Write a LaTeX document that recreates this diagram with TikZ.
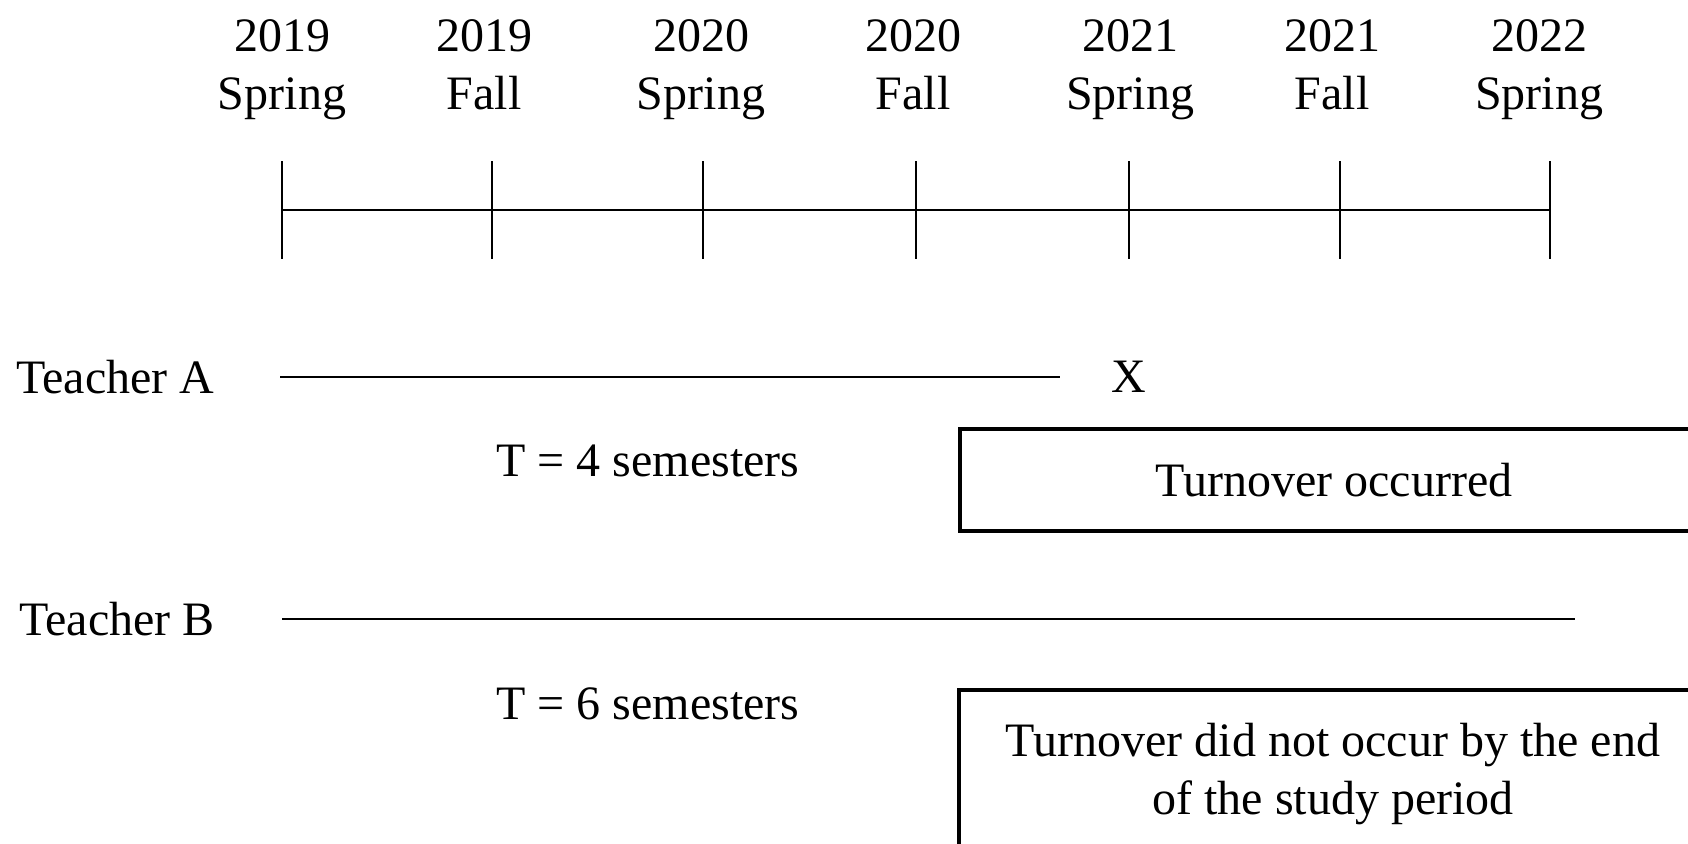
\documentclass[tikz,border=0pt]{standalone}
\usepackage{fontspec}
\setmainfont{Liberation Serif}
\begin{document}
\begin{tikzpicture}[x=0.5pt, y=-0.5pt,
  every node/.style={font=\fontsize{24}{29}\selectfont},
  sem/.style={align=center, inner sep=0pt, anchor=north},
  tick/.style={inner sep=0pt, minimum width=0pt, minimum height=48.5pt},
  spell/.style={line width=1pt},
  outcome/.style={draw, line width=1.6pt, align=center, minimum width=374pt}]
\clip (0,0) rectangle (1688,843);

\node[tick](s19) at (282,210) {};
\node[tick](f19) at (492,210) {};
\node[tick](s20) at (703,210) {};
\node[tick](f20) at (916,210) {};
\node[tick](s21) at (1129,210) {};
\node[tick](f21) at (1340,210) {};
\node[tick](s22) at (1550,210) {};

\node[sem](ls19) at (282,19) {2019\\Spring};
\node[sem](lf19) at (484,19) {2019\\Fall};
\node[sem](ls20) at (701,19) {2020\\Spring};
\node[sem](lf20) at (913,19) {2020\\Fall};
\node[sem](ls21) at (1130,19) {2021\\Spring};
\node[sem](lf21) at (1332,19) {2021\\Fall};
\node[sem](ls22) at (1539,19) {2022\\Spring};

\node[inner sep=0pt, anchor=west](ta) at (16,377) {Teacher A};
\node[inner sep=0pt, anchor=west](tb) at (19,619) {Teacher B};
\coordinate (a0) at (280,377);
\coordinate (a1) at (1060,377);
\coordinate (b0) at (282,619);
\coordinate (b1) at (1575,619);
\node[inner sep=0pt](xa) at (1129,377) {X};

\node[inner sep=0pt](durA) at (648,461) {T = 4 semesters};
\node[inner sep=0pt](durB) at (648,704) {T = 6 semesters};

\node[outcome, minimum height=51pt](occ) at (1334,480) {Turnover occurred};
\node[outcome, minimum height=84pt](noocc) at (1333,774) {Turnover did not occur by the end\\of the study period};

\draw[line width=0.8pt] (s19.north) to (s19.south);
\draw[line width=0.8pt] (f19.north) to (f19.south);
\draw[line width=0.8pt] (s20.north) to (s20.south);
\draw[line width=0.8pt] (f20.north) to (f20.south);
\draw[line width=0.8pt] (s21.north) to (s21.south);
\draw[line width=0.8pt] (f21.north) to (f21.south);
\draw[line width=0.8pt] (s22.north) to (s22.south);
\draw[spell] (s19.center) to (s22.center);

\draw[spell] (a0) to (a1);
\draw[spell] (b0) to (b1);

\end{tikzpicture}
\end{document}
